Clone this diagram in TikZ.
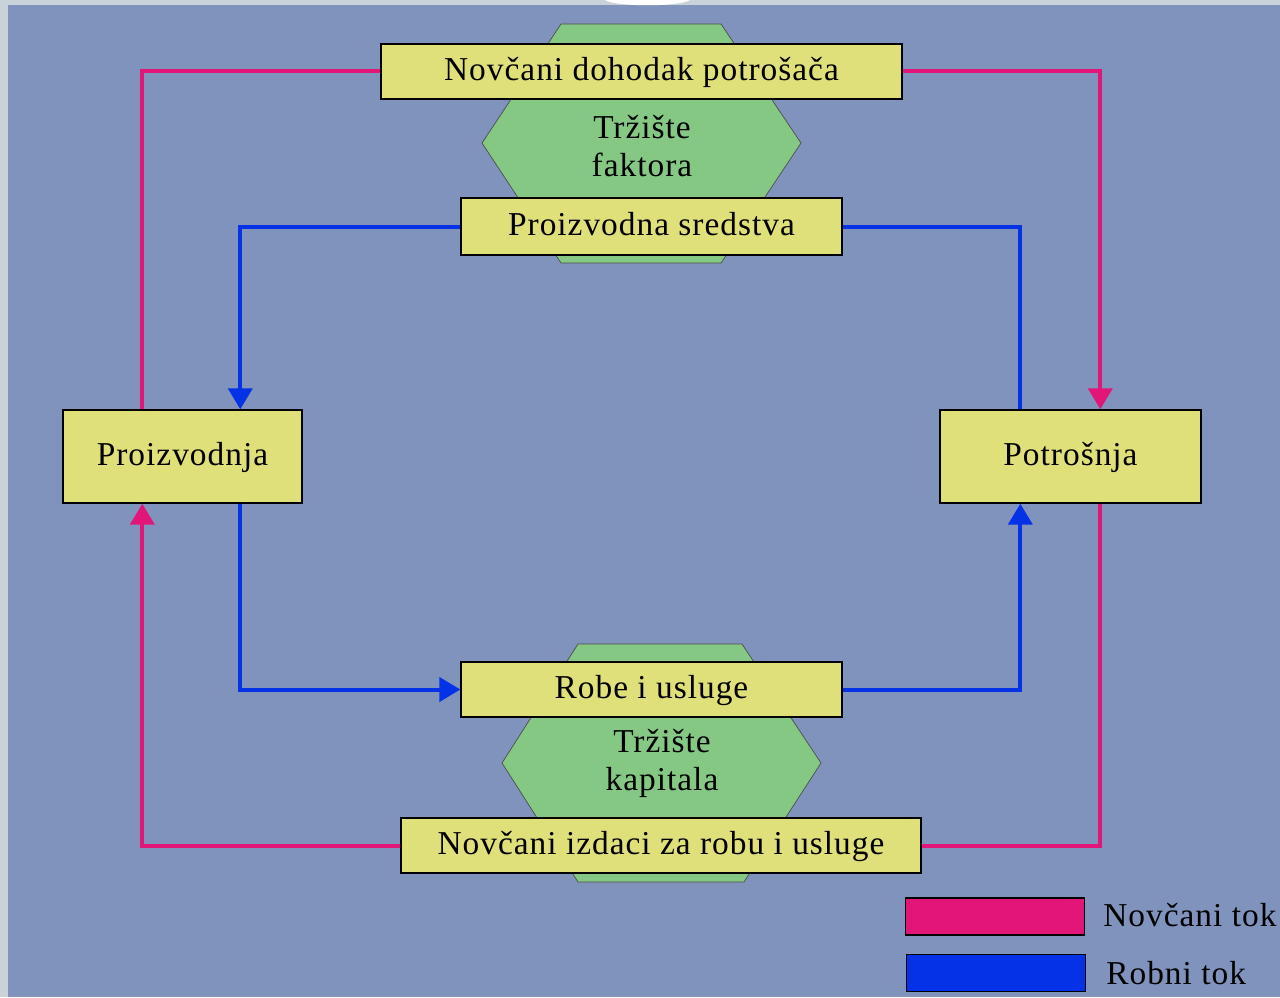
\documentclass[tikz,border=0pt]{standalone}
\usepackage{fontspec}
\setmainfont{Liberation Serif}[LetterSpace=3]
\usetikzlibrary{arrows.meta,positioning}
\definecolor{pozadina}{RGB}{127,147,188}
\definecolor{okvir}{RGB}{200,210,216}
\definecolor{zuta}{RGB}{224,224,122}
\definecolor{zelena}{RGB}{132,200,132}
\definecolor{novac}{RGB}{226,22,120}
\definecolor{roba}{RGB}{5,50,230}
\tikzset{
  kutija/.style={
    draw = black,
    fill = zuta,
    thick,
    inner sep = 0pt,
    text depth = 0.1cm,
    font = \fontsize{19}{22}\selectfont
  },
  trziste/.style={
    draw = black!70,
    fill = zelena,
    thin
  },
  natpis/.style={
    align = center,
    inner sep = 0pt,
    font = \fontsize{19}{21.6}\selectfont
  },
  novtok/.style={
    draw = novac,
    line width = 0.08cm
  },
  robtok/.style={
    draw = roba,
    line width = 0.08cm
  },
  vrh/.style={
    -{Triangle[length=0.42cm,width=0.48cm]}
  },
  legenda/.style={
    draw = black,
    thick,
    minimum width = 3.58cm,
    minimum height = 0.74cm,
    inner sep = 0pt
  }
}
\begin{document}
\begin{tikzpicture}[x=0.02cm,y=-0.02cm]
    % pozadina
    \fill[okvir] (0,0) rectangle (1280,997);
    \fill[pozadina] (8,5) rectangle (1280,997);
    \fill[white] (605,0) .. controls (615,7) and (680,7) .. (690,0) -- cycle;
    \useasboundingbox (0,0) rectangle (1280,997);

    % trzista
    \draw[trziste] (561,24) -- (721,24) -- (801,143) -- (721,263) -- (561,263) -- (482,143) -- cycle;
    \node[natpis] (faktori) at (642,146) {Tržište\\faktora};
    \draw[trziste] (578,644) -- (742,644) -- (821,763) -- (744,882) -- (578,882) -- (502,763) -- cycle;
    \node[natpis] (kapital) at (662,763) {Tržište\\kapitala};

    % kutije
    \node[kutija, minimum width=10.42cm, minimum height=1.1cm] (dohodak) at (641.5,71.5) {Novčani dohodak potrošača};
    \node[kutija, minimum width=7.62cm, minimum height=1.14cm] (sredstva) at (651.5,226.5) {Proizvodna sredstva};
    \node[kutija, minimum width=4.78cm, minimum height=1.86cm] (proizvodnja) at (182.5,456.5) {Proizvodnja};
    \node[kutija, minimum width=5.22cm, minimum height=1.86cm] (potrosnja) at (1070.5,456.5) {Potrošnja};
    \node[kutija, minimum width=7.62cm, minimum height=1.1cm] (robe) at (651.5,689.5) {Robe i usluge};
    \node[kutija, minimum width=10.4cm, minimum height=1.1cm] (izdaci) at (661,845.5) {Novčani izdaci za robu i usluge};

    % novcani tok
    \draw[novtok] ([xshift=1.6cm]proizvodnja.north west) |- (dohodak.west);
    \draw[novtok, vrh] (dohodak.east) -| ([xshift=3.22cm]potrosnja.north west);
    \draw[novtok] ([xshift=3.22cm]potrosnja.south west) |- (izdaci.east);
    \draw[novtok, vrh] (izdaci.west) -| ([xshift=1.6cm]proizvodnja.south west);

    % robni tok
    \draw[robtok, vrh] (sredstva.west) -| ([xshift=3.56cm]proizvodnja.north west);
    \draw[robtok] ([xshift=1.62cm]potrosnja.north west) |- (sredstva.east);
    \draw[robtok, vrh] ([xshift=3.56cm]proizvodnja.south west) |- (robe.west);
    \draw[robtok, vrh] (robe.east) -| ([xshift=1.62cm]potrosnja.south west);

    % legenda
    \node[legenda, fill=novac] (lnovac) at (995,916.5) {};
    \node[legenda, fill=roba] (lroba) at (996,973) {};
    \node[font=\fontsize{19}{22}\selectfont, anchor=west, inner sep=0pt] (tnovac) at (1103,915) {Novčani tok};
    \node[font=\fontsize{19}{22}\selectfont, anchor=west, inner sep=0pt] (troba) at (1106,973) {Robni tok};
\end{tikzpicture}
\end{document}
